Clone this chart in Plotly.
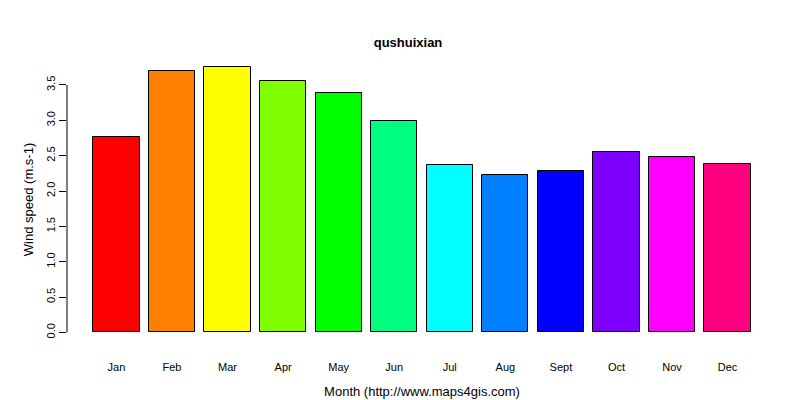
import plotly.graph_objects as go

months = ["Jan", "Feb", "Mar", "Apr", "May", "Jun", "Jul", "Aug", "Sept", "Oct", "Nov", "Dec"]
wind = [2.76, 3.70, 3.76, 3.56, 3.39, 2.99, 2.37, 2.22, 2.28, 2.55, 2.48, 2.38]
colors = ["#FF0000", "#FF8000", "#FFFF00", "#80FF00", "#00FF00", "#00FF80",
          "#00FFFF", "#0080FF", "#0000FF", "#8000FF", "#FF00FF", "#FF0080"]

# R barplot style positions: width 1, space 0.2
xpos = [0.7 + 1.2 * i for i in range(len(months))]

fig = go.Figure(go.Bar(
    x=xpos, y=wind, width=1,
    marker=dict(color=colors, line=dict(color="black", width=1)),
))

fig.add_shape(type="line", xref="paper", yref="y", x0=0, x1=0, y0=0, y1=3.5,
              line=dict(color="black", width=1))

fig.update_layout(
    width=800, height=400,
    margin=dict(l=59, r=31, t=48, b=65),
    paper_bgcolor="white", plot_bgcolor="white",
    font=dict(family="Liberation Sans, Arial", size=11, color="black"),
    title=dict(text="<b>qushuixian</b>", x=0.5, xanchor="center", y=0.925,
               font=dict(size=13)),
    showlegend=False,
    bargap=0,
)
fig.update_xaxes(range=[-0.368, 14.968], tickvals=xpos, ticktext=months,
                 showgrid=False, zeroline=False, showline=False, ticks="",
                 ticklabelstandoff=16,
                 title=dict(text="Month (http://www.maps4gis.com)", standoff=14))
fig.update_yaxes(range=[-0.15, 3.91], tickvals=[0, 0.5, 1, 1.5, 2, 2.5, 3, 3.5],
                 ticktext=["0.0", "0.5", "1.0", "1.5", "2.0", "2.5", "3.0", "3.5"],
                 tickangle=-90, ticks="outside", ticklen=7, tickcolor="black",
                 showgrid=False, zeroline=False, showline=False,
                 title=dict(text="Wind speed (m.s-1)", standoff=8))

fig.write_html("out.html")
